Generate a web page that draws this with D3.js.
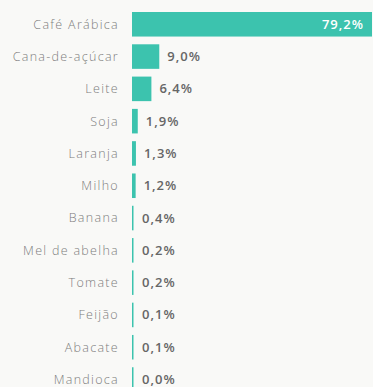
<!DOCTYPE html>
<html lang="pt">
<head>
<meta charset="utf-8">
<script src="https://cdn.jsdelivr.net/npm/d3@7"></script>
<style>
  html, body { margin: 0; padding: 0; background: #f9f9f7; }
  svg { display: block; }
</style>
</head>
<body>
<svg id="chart" width="373" height="387"></svg>
<script>
// Participação de cada cultura no total (%)
const categories = ["Café Arábica", "Cana-de-açúcar", "Leite", "Soja", "Laranja", "Milho",
                    "Banana", "Mel de abelha", "Tomate", "Feijão", "Abacate", "Mandioca"];
const shares = [79.2, 9.0, 6.4, 1.9, 1.3, 1.2, 0.4, 0.2, 0.2, 0.1, 0.1, 0.0];

const data = categories.map((c, i) => ({ cat: c, val: shares[i] }));
const fmt = v => v.toFixed(1).replace(".", ",") + "%";

const svg = d3.select("#chart");
const W = 373, H = 387;
const left = 132, right = 372;

svg.append("rect").attr("width", W).attr("height", H).attr("fill", "#f9f9f7");

const x = d3.scaleLinear().domain([0, d3.max(shares)]).range([left, right]);
const y = d3.scaleBand().domain(categories).range([12, 391.8]).paddingInner(0.24).paddingOuter(0);

// Rótulos das categorias
const yAxis = d3.axisLeft(y).tickSize(0).tickPadding(0);
const ax = svg.append("g").attr("transform", `translate(${left - 13},0)`).call(yAxis);
ax.select(".domain").remove();
ax.selectAll("text")
  .attr("fill", "#7d7d7d")
  .style("font-family", "'Open Sans', 'Noto Sans', sans-serif")
  .style("font-size", "12.5px")
  .style("font-weight", 300)
  .style("letter-spacing", "1.3px")
  .attr("dy", "0.35em");

// Barras
svg.append("g").selectAll("rect").data(data).join("rect")
  .attr("x", x(0))
  .attr("y", d => y(d.cat))
  .attr("width", d => Math.max(x(d.val) - x(0), 1.5))
  .attr("height", y.bandwidth())
  .attr("fill", "#3cc3ae");

// Rótulos de valor
const insideLimit = 60;
svg.append("g").selectAll("text").data(data).join("text")
  .attr("x", d => (x(d.val) - x(0)) > insideLimit ? x(d.val) - 8 : Math.max(x(d.val), x(0) + 2) + 8)
  .attr("y", d => y(d.cat) + y.bandwidth() / 2)
  .attr("dy", "0.35em")
  .attr("text-anchor", d => (x(d.val) - x(0)) > insideLimit ? "end" : "start")
  .attr("fill", d => (x(d.val) - x(0)) > insideLimit ? "#ffffff" : "#666666")
  .style("font-family", "'Open Sans', 'Noto Sans', sans-serif")
  .style("font-size", "13px")
  .style("letter-spacing", "1px")
  .style("font-weight", 600)
  .text(d => fmt(d.val));
</script>
</body>
</html>
